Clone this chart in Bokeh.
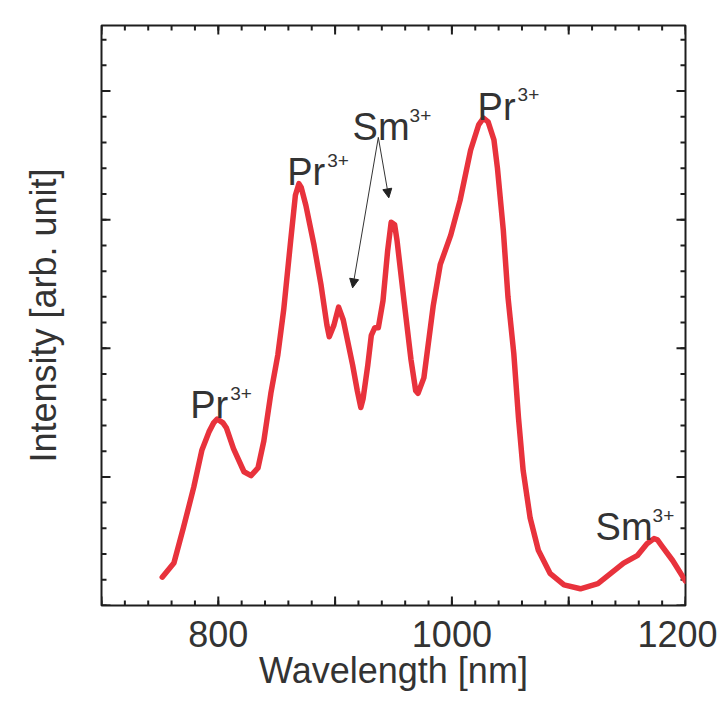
import math
from bokeh.plotting import figure
from bokeh.models import FixedTicker, Range1d, Label, Arrow, NormalHead, ColumnDataSource
from bokeh.embed import file_html
from bokeh.resources import INLINE

# ---- data ----
wavelength = [752, 762, 770, 779, 786, 792, 796, 799, 804, 807, 813, 822, 828, 834, 839,
              845, 851, 856, 862, 866, 869, 871, 875, 882, 888, 893, 895, 899, 903, 907,
              915, 919, 922, 924, 928, 931, 934, 937, 941, 945, 948, 951, 953, 959, 965,
              969, 971, 976, 984, 990, 999, 1007, 1016, 1023, 1027, 1031, 1036, 1039, 1044,
              1048, 1053, 1057, 1061, 1067, 1074, 1084, 1096, 1110, 1125, 1136, 1147, 1159,
              1167, 1173, 1176, 1180, 1189, 1200]
intensity = [0.22, 0.33, 0.60, 0.92, 1.21, 1.35, 1.42, 1.45, 1.42, 1.38, 1.22, 1.04, 1.01, 1.07, 1.28,
             1.65, 1.95, 2.30, 2.84, 3.19, 3.28, 3.25, 3.11, 2.80, 2.49, 2.18, 2.09, 2.18, 2.32, 2.22,
             1.87, 1.67, 1.54, 1.61, 1.87, 2.10, 2.16, 2.16, 2.37, 2.76, 2.98, 2.96, 2.84, 2.37, 1.91,
             1.67, 1.65, 1.77, 2.33, 2.65, 2.88, 3.15, 3.54, 3.74, 3.79, 3.76, 3.62, 3.40, 2.92,
             2.40, 1.96, 1.46, 1.05, 0.68, 0.43, 0.25, 0.16, 0.13, 0.17, 0.25, 0.33, 0.39,
             0.48, 0.52, 0.51, 0.46, 0.35, 0.19]

x_start, x_end = 700, 1200
y_start, y_end = 0, 4.51
x_major = [700, 800, 900, 1000, 1100, 1200]
x_minor = list(range(700, 1201, 20))
x_labeled = [800, 1000, 1200]
y_major = [0, 1, 2, 3, 4]
y_minor = [round(0.2 * i, 1) for i in range(23)]

# annotations: (main text, superscript, x, y)
ion_labels = [
    ("Pr", "3+", 776, 1.56),
    ("Pr", "3+", 859, 3.37),
    ("Sm", "3+", 915, 3.72),
    ("Pr", "3+", 1022, 3.88),
    ("Sm", "3+", 1123, 0.61),
]
main_width_px = {"Pr": 40, "Sm": 57}
sup_rise = 0.09
arrow_start = (937, 3.64)
arrow_ends = [(915, 2.47), (946, 3.17)]

FONT = "Liberation Sans"
TXT = "#333333"
AX = "#1e1e1e"

p = figure(frame_width=584, frame_height=580,
           x_range=Range1d(x_start, x_end), y_range=Range1d(y_start, y_end),
           output_backend="svg", toolbar_location=None,
           min_border_left=101, min_border_top=25, min_border_right=32, min_border_bottom=96,
           x_axis_label="Wavelength [nm]", y_axis_label="Intensity [arb. unit]")
p.grid.visible = False
p.outline_line_color = AX
p.outline_line_width = 2
p.background_fill_color = "white"
p.border_fill_color = "white"

for ax in (p.xaxis[0], p.yaxis[0]):
    ax.axis_line_color = None
    ax.major_tick_line_color = None
    ax.minor_tick_line_color = None
    ax.major_tick_in = 0
    ax.major_tick_out = 0
    ax.minor_tick_in = 0
    ax.minor_tick_out = 0
    ax.major_label_text_font = FONT
    ax.major_label_text_color = TXT
    ax.major_label_text_font_size = "36px"
    ax.axis_label_text_font = FONT
    ax.axis_label_text_color = TXT
    ax.axis_label_text_font_style = "normal"
    ax.axis_label_text_font_size = "36px"

xa = p.xaxis[0]
xa.ticker = FixedTicker(ticks=x_labeled, minor_ticks=[])
xa.major_label_standoff = 15
xa.axis_label_standoff = 0

ya = p.yaxis[0]
ya.ticker = FixedTicker(ticks=[], minor_ticks=[])
ya.major_label_standoff = 0
ya.axis_label_standoff = 38

# inward tick marks on all four sides (clipped to the frame, so only the inner half shows)
def tick_marks(xs, ys, angle, size):
    p.scatter(xs, ys, marker="dash", size=size, angle=angle,
              line_color=AX, line_width=2)

for vals, size in ((x_major, 18), (x_minor, 10)):
    xs = list(vals) * 2
    ys = [y_start] * len(vals) + [y_end] * len(vals)
    tick_marks(xs, ys, math.pi / 2, size)
for vals, size in ((y_major, 18), (y_minor, 10)):
    ys = list(vals) * 2
    xs = [x_start] * len(vals) + [x_end] * len(vals)
    tick_marks(xs, ys, 0, size)

src = ColumnDataSource(dict(x=wavelength, y=intensity))
p.line("x", "y", source=src, line_color="#e8323c", line_width=5.5, line_join="round", line_cap="round")

for main, sup, x, y in ion_labels:
    p.add_layout(Label(x=x, y=y, text=main, text_font=FONT, text_font_size="38px",
                       text_color=TXT, text_baseline="alphabetic", text_align="left"))
    p.add_layout(Label(x=x, y=y + sup_rise, x_offset=main_width_px[main], text=sup,
                       text_font=FONT, text_font_size="19px",
                       text_color=TXT, text_baseline="alphabetic", text_align="left"))

for ex, ey in arrow_ends:
    p.add_layout(Arrow(x_start=arrow_start[0], y_start=arrow_start[1], x_end=ex, y_end=ey,
                       line_color="#333333", line_width=1,
                       end=NormalHead(size=9, fill_color="#222222", line_color="#222222", line_width=1)))

open("out.html", "w").write(file_html(p, INLINE))
